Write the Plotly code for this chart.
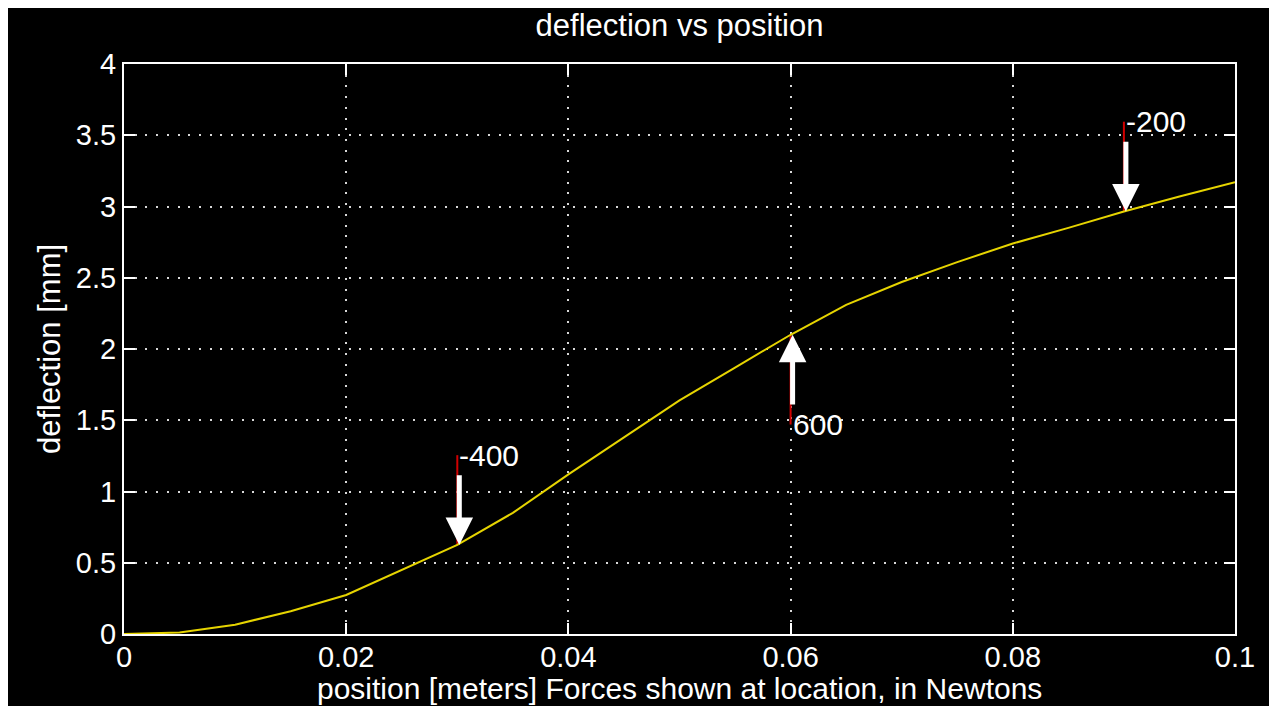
import numpy as np
import plotly.graph_objects as go

# ---- data ----
position = [0, 0.005, 0.01, 0.015, 0.02, 0.025, 0.03, 0.035, 0.04, 0.045, 0.05,
            0.055, 0.06, 0.065, 0.07, 0.075, 0.08, 0.085, 0.09, 0.095, 0.1]
deflection = [0, 0.01, 0.065, 0.16, 0.274, 0.45, 0.625, 0.85, 1.12, 1.38, 1.64,
              1.87, 2.10, 2.31, 2.47, 2.61, 2.74, 2.85, 2.965, 3.07, 3.17]
force_pos = [0.03, 0.06, 0.09]
force_val = [-400, 600, -200]
force_labels = ["-400", "600", "-200"]
x_ticks = [0, 0.02, 0.04, 0.06, 0.08, 0.1]
y_ticks = [0, 0.5, 1, 1.5, 2, 2.5, 3, 3.5, 4]

FONT = "Liberation Sans, Arial, sans-serif"
WHITE = "#ffffff"
RED_LEN = 0.63
ARROW_LEN = 0.5

fig = go.Figure()

# red force lines and white arrows
rx, ry = [], []
for p, f, lab in zip(force_pos, force_val, force_labels):
    tip = float(np.interp(p, position, deflection))
    s = -np.sign(f)
    end = tip + s * RED_LEN
    rx += [p, p, None]
    ry += [tip, end, None]
    fig.add_annotation(x=p, y=tip, ax=p, ay=tip + s * ARROW_LEN,
                       xref="x", yref="y", axref="x", ayref="y",
                       text="", showarrow=True, arrowhead=2, arrowsize=1.1,
                       arrowwidth=5, arrowcolor=WHITE, xshift=2)
    fig.add_annotation(x=p, y=end, xref="x", yref="y", text=lab,
                       showarrow=False, xanchor="left", yanchor="middle",
                       font=dict(family=FONT, size=30, color=WHITE))
fig.add_trace(go.Scatter(x=rx, y=ry, mode="lines",
                         line=dict(color="#d00000", width=2),
                         hoverinfo="skip", showlegend=False))
fig.add_trace(go.Scatter(x=position, y=deflection, mode="lines",
                         line=dict(color="#e6d400", width=2),
                         hoverinfo="skip", showlegend=False))

# x-axis title placed as a paper annotation
fig.add_annotation(x=0.5, y=-0.095, xref="paper", yref="paper",
                   text="position [meters] Forces shown at location, in Newtons",
                   showarrow=False, xanchor="center", yanchor="middle",
                   font=dict(family=FONT, size=30, color=WHITE))

axis_common = dict(
    showline=True, linecolor=WHITE, linewidth=2, mirror="ticks",
    ticks="inside", ticklen=11, tickwidth=2, tickcolor=WHITE,
    showgrid=True, gridcolor="#d8d8d8", gridwidth=2, griddash="2px,8.7px",
    zeroline=False, tickfont=dict(family=FONT, size=29, color=WHITE),
)

fig.update_layout(
    width=1277, height=706,
    margin=dict(l=116, r=50, t=56, b=80),
    paper_bgcolor="black", plot_bgcolor="black",
    title=dict(text="deflection vs position", x=0.5, xref="paper",
               y=1 - 17 / 706, yref="container", yanchor="middle",
               font=dict(family=FONT, size=31, color=WHITE)),
    xaxis=dict(range=[0, 0.1], tickvals=x_ticks, ticklabelstandoff=-4, **axis_common),
    yaxis=dict(range=[0, 4], tickvals=y_ticks, **axis_common,
               title=dict(text="deflection [mm]",
                          font=dict(family=FONT, size=31, color=WHITE), standoff=6)),
)

fig.write_html("out.html")
